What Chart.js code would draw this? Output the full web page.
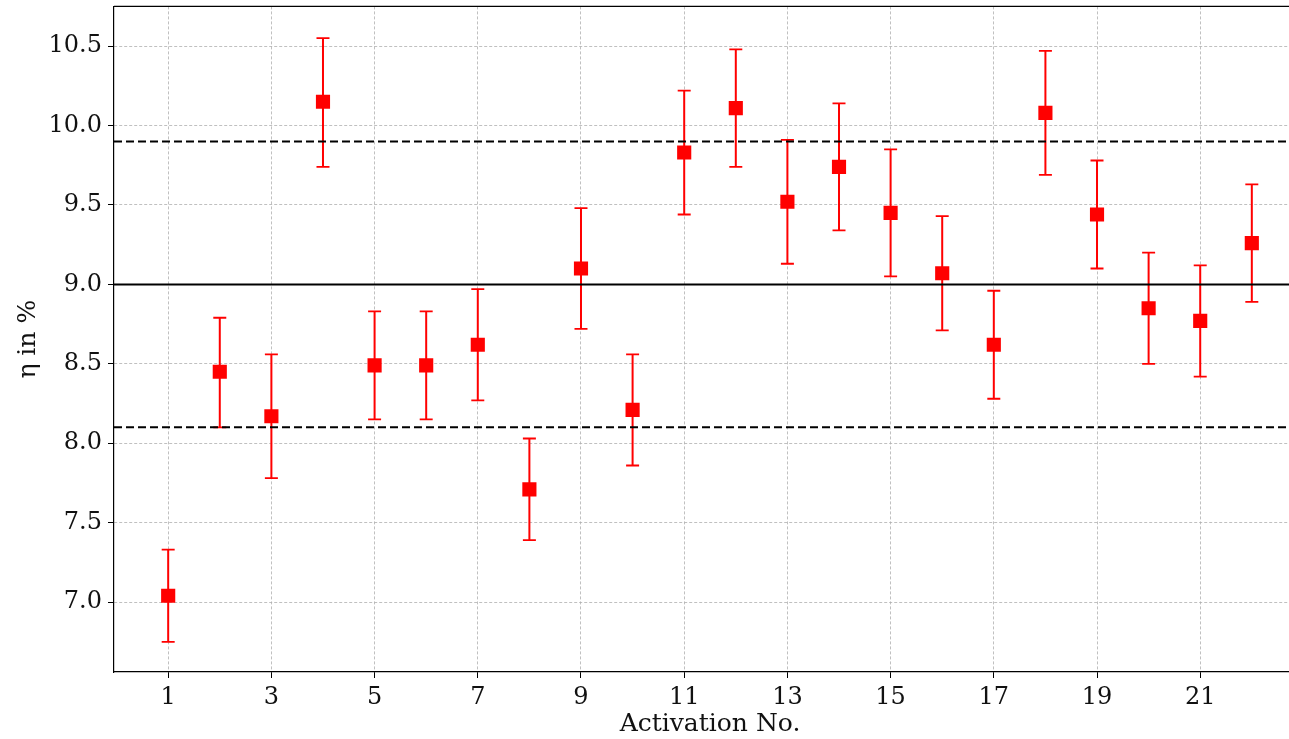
<!DOCTYPE html>
<html>
<head>
<meta charset="utf-8">
<script src="https://cdn.jsdelivr.net/npm/chart.js@4.4.1/dist/chart.umd.min.js"></script>
<style>
  body { margin: 0; overflow: hidden; background: #fff; }
  #wrap { width: 1316px; height: 753px; margin-top: -14px; }
</style>
</head>
<body>
<div id="wrap"><canvas id="chart" width="1316" height="753"></canvas></div>
<script>
// activation number, efficiency and its error bar ends
const activations = [1, 2, 3, 4, 5, 6, 7, 8, 9, 10, 11, 12, 13, 14, 15, 16, 17, 18, 19, 20, 21, 22];
const eta     = [7.04, 8.45, 8.17, 10.15, 8.49, 8.49, 8.62, 7.71, 9.10, 8.21, 9.83, 10.11, 9.52, 9.74, 9.45, 9.07, 8.62, 10.08, 9.44, 8.85, 8.77, 9.26];
const etaLow  = [6.75, 8.10, 7.78, 9.74, 8.15, 8.15, 8.27, 7.39, 8.72, 7.86, 9.44, 9.74, 9.13, 9.34, 9.05, 8.71, 8.28, 9.69, 9.10, 8.50, 8.42, 8.89];
const etaHigh = [7.33, 8.79, 8.56, 10.55, 8.83, 8.83, 8.97, 8.03, 9.48, 8.56, 10.22, 10.48, 9.91, 10.14, 9.85, 9.43, 8.96, 10.47, 9.78, 9.20, 9.12, 9.63];

const xTicks = [1, 3, 5, 7, 9, 11, 13, 15, 17, 19, 21];
const yTicks = [7.0, 7.5, 8.0, 8.5, 9.0, 9.5, 10.0, 10.5];

const meanLine = 9.0;
const bandLines = [9.9, 8.1];

const FONT = 'DejaVu Serif';

const errorBars = {
  id: 'errorBars',
  beforeDatasetsDraw(chart) {
    const { ctx, scales: { x, y }, chartArea } = chart;
    ctx.save();
    ctx.beginPath();
    ctx.rect(chartArea.left, chartArea.top, chartArea.right - chartArea.left, chartArea.bottom - chartArea.top);
    ctx.clip();
    ctx.strokeStyle = '#ff0000';
    activations.forEach((a, i) => {
      const px = x.getPixelForValue(a);
      const lo = y.getPixelForValue(etaLow[i]);
      const hi = y.getPixelForValue(etaHigh[i]);
      ctx.lineWidth = 2;
      ctx.beginPath();
      ctx.moveTo(px, lo);
      ctx.lineTo(px, hi);
      ctx.stroke();
      ctx.lineWidth = 1.8;
      ctx.beginPath();
      ctx.moveTo(px - 6.5, lo);
      ctx.lineTo(px + 6.5, lo);
      ctx.moveTo(px - 6.5, hi);
      ctx.lineTo(px + 6.5, hi);
      ctx.stroke();
    });
    ctx.restore();
  }
};

const refLines = {
  id: 'refLines',
  afterDatasetsDraw(chart) {
    const { ctx, scales: { y }, chartArea } = chart;
    ctx.save();
    ctx.strokeStyle = '#000';
    ctx.lineWidth = 2;
    let py = y.getPixelForValue(meanLine);
    ctx.beginPath();
    ctx.moveTo(chartArea.left, py);
    ctx.lineTo(chartArea.right, py);
    ctx.stroke();
    ctx.setLineDash([8, 4]);
    bandLines.forEach(v => {
      py = y.getPixelForValue(v);
      ctx.beginPath();
      ctx.moveTo(chartArea.left, py);
      ctx.lineTo(chartArea.right, py);
      ctx.stroke();
    });
    ctx.restore();
  },
  afterDraw(chart) {
    // top frame line (left and bottom come from the axis borders)
    const { ctx, chartArea } = chart;
    ctx.save();
    ctx.strokeStyle = '#000';
    ctx.lineWidth = 1.2;
    ctx.beginPath();
    ctx.moveTo(chartArea.left, chartArea.top);
    ctx.lineTo(chartArea.right, chartArea.top);
    ctx.stroke();
    ctx.restore();
  }
};

const gridOpts = {
  color: '#b0b0b0',
  lineWidth: 0.8,
  tickColor: '#000',
  tickLength: 6,
  tickWidth: 1,
  tickBorderDash: [],
};

new Chart(document.getElementById('chart'), {
  type: 'scatter',
  data: {
    datasets: [
      {
        data: activations.map((a, i) => ({ x: a, y: eta[i] })),
        pointStyle: 'rect',
        pointRadius: 10,
        pointBackgroundColor: '#ff0000',
        pointBorderColor: '#ff0000',
        pointBorderWidth: 0,
        showLine: false,
      },
    ],
  },
  options: {
    responsive: false,
    animation: false,
    layout: { padding: { top: 6, right: 0, bottom: 0, left: 0 } },
    plugins: {
      legend: { display: false },
      tooltip: { enabled: false },
    },
    scales: {
      x: {
        type: 'linear',
        min: -0.05,
        max: 23.05,
        afterBuildTicks: scale => { scale.ticks = xTicks.map(v => ({ value: v })); },
        afterFit: scale => { scale.height = 67; },
        grid: gridOpts,
        border: { display: true, color: '#000', width: 1.2, dash: [3, 2] },
        ticks: {
          color: '#111',
          padding: 5,
          maxRotation: 0,
          autoSkip: false,
          font: { family: FONT, size: 24 },
        },
        title: {
          display: true,
          text: 'Activation No.',
          color: '#111',
          padding: { top: 0, bottom: 0 },
          font: { family: FONT, size: 25 },
        },
      },
      y: {
        type: 'linear',
        min: 6.56,
        max: 10.75,
        afterBuildTicks: scale => { scale.ticks = yTicks.map(v => ({ value: v })); },
        afterFit: scale => { scale.width = 114; },
        grid: gridOpts,
        border: { display: true, color: '#000', width: 1.2, dash: [3, 2] },
        ticks: {
          color: '#111',
          padding: 6,
          font: { family: FONT, size: 24 },
          callback: v => Number(v).toFixed(1),
        },
        title: {
          display: true,
          text: 'η in %',
          color: '#111',
          padding: { top: 13, bottom: 0 },
          font: { family: FONT, size: 25 },
        },
      },
    },
  },
  plugins: [errorBars, refLines],
});
</script>
</body>
</html>
